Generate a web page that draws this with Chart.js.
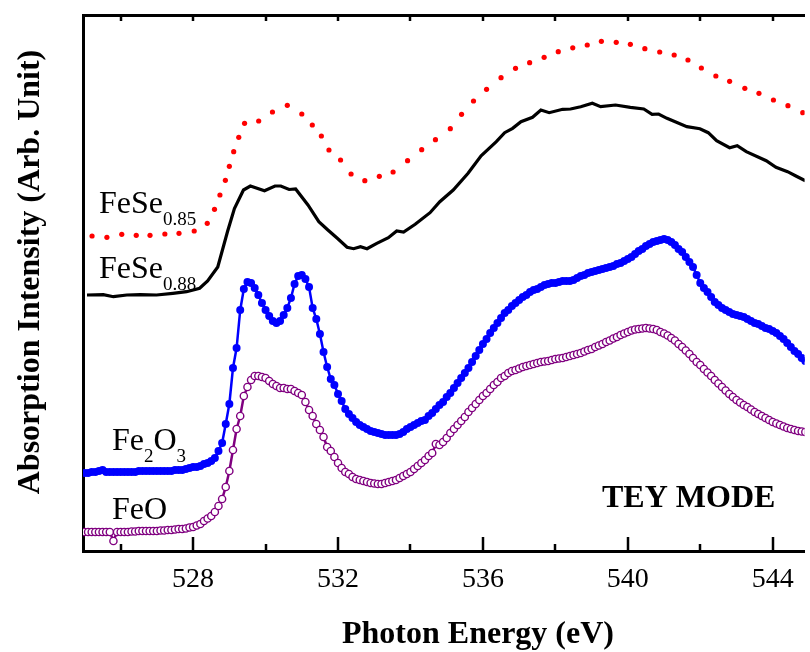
<!DOCTYPE html>
<html>
<head>
<meta charset="utf-8">
<script src="https://cdn.jsdelivr.net/npm/chart.js@4.4.1/dist/chart.umd.min.js"></script>
<style>
  html, body { margin: 0; padding: 0; background: #fff; }
  canvas { display: block; }
</style>
</head>
<body>
<canvas id="chart" width="810" height="652"></canvas>
<script>
// Photon energy grid (eV) of the Fe2O3 and FeO scans
const energyFine = [
  525.0, 525.1, 525.2, 525.3, 525.4, 525.5, 525.6, 525.7, 525.8, 525.9,
  526.0, 526.1, 526.2, 526.3, 526.4, 526.5, 526.6, 526.7, 526.8, 526.9,
  527.0, 527.1, 527.2, 527.3, 527.4, 527.5, 527.6, 527.7, 527.8, 527.9,
  528.0, 528.1, 528.2, 528.3, 528.4, 528.5, 528.6, 528.7, 528.8, 528.9,
  529.0, 529.1, 529.2, 529.3, 529.4, 529.5, 529.6, 529.7, 529.8, 529.9,
  530.0, 530.1, 530.2, 530.3, 530.4, 530.5, 530.6, 530.7, 530.8, 530.9,
  531.0, 531.1, 531.2, 531.3, 531.4, 531.5, 531.6, 531.7, 531.8, 531.9,
  532.0, 532.1, 532.2, 532.3, 532.4, 532.5, 532.6, 532.7, 532.8, 532.9,
  533.0, 533.1, 533.2, 533.3, 533.4, 533.5, 533.6, 533.7, 533.8, 533.9,
  534.0, 534.1, 534.2, 534.3, 534.4, 534.5, 534.6, 534.7, 534.8, 534.9,
  535.0, 535.1, 535.2, 535.3, 535.4, 535.5, 535.6, 535.7, 535.8, 535.9,
  536.0, 536.1, 536.2, 536.3, 536.4, 536.5, 536.6, 536.7, 536.8, 536.9,
  537.0, 537.1, 537.2, 537.3, 537.4, 537.5, 537.6, 537.7, 537.8, 537.9,
  538.0, 538.1, 538.2, 538.3, 538.4, 538.5, 538.6, 538.7, 538.8, 538.9,
  539.0, 539.1, 539.2, 539.3, 539.4, 539.5, 539.6, 539.7, 539.8, 539.9,
  540.0, 540.1, 540.2, 540.3, 540.4, 540.5, 540.6, 540.7, 540.8, 540.9,
  541.0, 541.1, 541.2, 541.3, 541.4, 541.5, 541.6, 541.7, 541.8, 541.9,
  542.0, 542.1, 542.2, 542.3, 542.4, 542.5, 542.6, 542.7, 542.8, 542.9,
  543.0, 543.1, 543.2, 543.3, 543.4, 543.5, 543.6, 543.7, 543.8, 543.9,
  544.0, 544.1, 544.2, 544.3, 544.4, 544.5, 544.6, 544.7, 544.8, 544.9
];

// Fe2O3 (blue, filled circles) - arb. units, offset as plotted
const fe2o3 = [
  78, 78, 79, 79, 80, 81, 79, 79, 79, 79,
  79, 79, 79, 79, 79, 80, 80, 80, 80, 80,
  80, 80, 80, 80, 80, 81, 81, 81, 82, 83,
  84, 84, 85, 87, 88, 90, 93, 100, 108, 127,
  147, 183, 203, 241, 262, 269, 268, 263, 256, 248,
  241, 235, 230, 228, 230, 236, 243, 253, 267, 275,
  276, 272, 264, 243, 232, 217, 199, 184, 172, 166,
  157, 150, 142, 137, 133, 129, 126, 124, 122, 120,
  119, 118, 117, 116, 116, 116, 116, 117, 119, 122,
  124, 126, 128, 130, 131, 135, 138, 142, 146, 149,
  154, 158, 163, 168, 173, 178, 183, 189, 195, 201,
  207, 212, 218, 223, 228, 233, 238, 241, 245, 248,
  251, 254, 256, 259, 261, 262, 264, 266, 267, 268,
  268, 269, 270, 270, 270, 271, 273, 275, 276, 278,
  279, 280, 281, 282, 283, 284, 285, 287, 288, 290,
  292, 294, 297, 300, 302, 305, 307, 309, 310, 311,
  312, 311, 309, 306, 302, 299, 294, 289, 284, 276,
  268, 263, 259, 254, 249, 246, 243, 241, 239, 237,
  236, 235, 234, 232, 230, 228, 227, 225, 223, 222,
  220, 218, 215, 212, 208, 204, 200, 197, 193, 190
];

// FeO (purple, open circles)
const feo = [
  19, 19, 19, 19, 19, 19, 19, 19, 10, 19,
  19, 19, 19, 19.5, 19.5, 20, 20, 20, 20, 20,
  20, 20.5, 20.5, 21, 21, 21.5, 22, 22, 22.5, 23.5,
  24, 25.5, 27, 30, 32.5, 35, 39, 45, 52, 64,
  80, 101, 122, 135, 155, 164, 171, 175, 175, 174,
  173, 170, 167, 165, 163, 163, 162, 162, 160, 158,
  156, 149, 141, 135, 127, 121, 114, 104, 100, 94,
  88, 83, 79, 77, 74, 72, 71, 70, 69, 68,
  67.5, 67, 67, 68, 69, 70, 71, 73, 75, 77,
  79, 82, 85, 88, 91, 95, 98, 107, 106, 109,
  113, 118, 122, 126, 130, 134, 139, 143, 147, 151,
  155, 158, 162, 166, 169, 173, 175, 178, 180, 181,
  182.5, 184, 185, 186, 187, 188, 189, 189.5, 190, 191,
  192, 192.5, 193, 194, 195, 196, 197, 198, 199.5, 201,
  202, 204, 205.5, 207, 209, 210.5, 212.5, 214, 216, 217.5,
  219, 220.5, 221.5, 222, 222.5, 223, 222.5, 222, 221, 219,
  217.5, 215.5, 213, 210.5, 207, 204, 200.5, 197, 193, 189,
  186, 182, 178.5, 175, 171, 167.5, 164, 160.5, 157, 154,
  151, 148.5, 146, 144, 141.5, 139, 137, 135, 133, 131,
  129, 127.5, 126, 124.5, 123, 122, 121, 120, 119.5, 119
];

// FeSe0.88 (black solid line)
const fese88Energy = [
  525.07, 525.52, 525.80, 526.17, 526.54, 526.99, 527.44, 527.82, 528.18, 528.40,
  528.68, 528.95, 529.14, 529.39, 529.58, 529.97, 530.26, 530.42, 530.65, 530.83,
  531.17, 531.47, 531.72, 531.98, 532.25, 532.43, 532.62, 532.80, 533.07, 533.39,
  533.62, 533.81, 534.13, 534.54, 534.81, 535.18, 535.59, 535.95, 536.37, 536.60,
  536.82, 537.05, 537.37, 537.60, 537.83, 538.20, 538.42, 538.70, 539.02, 539.25,
  539.66, 540.07, 540.44, 540.67, 540.85, 541.08, 541.63, 541.99, 542.22, 542.45,
  542.81, 543.02, 543.27, 543.82, 544.09, 544.41, 544.64, 544.90
];
const fese88 = [
  256, 256.3, 254.3, 256, 256.3, 256, 257.7, 259.3, 262.7, 270,
  284, 319.5, 342.5, 361, 365, 360.3, 365, 365, 361.5, 362,
  346, 329.3, 321, 312.7, 303.7, 302.3, 304.3, 302.3, 307.7, 313.3,
  320, 319, 326.7, 338.3, 349.3, 361, 377.7, 395.3, 409.3, 418.3,
  422.7, 429.3, 433.7, 441, 438.3, 441.7, 442, 444.3, 447.7, 444.3,
  446, 443.7, 442, 436.7, 437, 432.7, 424.3, 422.3, 418.3, 410.3,
  403.3, 405.3, 399.3, 390.3, 383.7, 379.3, 375, 370.3
];

// FeSe0.85 (red dotted)
const fese85Energy = [
  525.21, 525.62, 526.03, 526.43, 526.81, 527.22, 527.61, 528.03, 528.39, 528.59,
  528.74, 528.89, 529.00, 529.12, 529.26, 529.42, 529.81, 530.19, 530.60, 531.00,
  531.29, 531.54, 531.75, 532.07, 532.36, 532.74, 533.14, 533.52, 533.92, 534.31,
  534.69, 535.10, 535.41, 535.74, 536.10, 536.50, 536.90, 537.29, 537.69, 538.08,
  538.48, 538.88, 539.27, 539.68, 540.07, 540.47, 540.88, 541.28, 541.66, 542.03,
  542.43, 542.81, 543.23, 543.62, 544.02, 544.42, 544.83
];
const fese85 = [
  315, 313.7, 316.7, 315.7, 315.7, 317, 317.7, 320, 327.7, 341.7,
  356, 370.7, 384.7, 399.3, 413.7, 427.7, 430, 439, 445.7, 437,
  426, 415, 401, 391, 377, 370.3, 374.7, 379, 390.3, 401.3,
  411.3, 422.3, 436.7, 450, 461.7, 473.3, 482.7, 488.3, 493.7, 499.3,
  503.2, 506, 509.7, 508.7, 506.7, 502.3, 499, 496, 491, 483,
  475, 469.7, 462.7, 457.7, 451, 445.3, 438.3
];

// axis ticks
const labelTicks = [528, 532, 536, 540, 544];
const minorTicks = [526, 530, 534, 538, 542];
const topTicks = [526, 528, 530, 532, 534, 536, 538, 540, 542, 544];
const xMin = 524.96;
const xMax = 544.88;

const serif = '"Liberation Serif", "Times New Roman", Times, serif';

function pairs(xs, ys) {
    return xs.map((x, i) => ({ x: x, y: ys[i] }));
}

// inward tick marks on bottom and top frame
const frameTicks = {
    id: 'frameTicks',
    afterDraw(chart) {
        const { ctx, chartArea, scales } = chart;
        const x = scales.x;
        ctx.save();
        ctx.strokeStyle = '#000';
        ctx.lineWidth = 2.5;
        const mark = (v, y0, y1) => {
            const px = Math.round(x.getPixelForValue(v));
            ctx.beginPath();
            ctx.moveTo(px, y0);
            ctx.lineTo(px, y1);
            ctx.stroke();
        };
        labelTicks.forEach(v => mark(v, chartArea.bottom, chartArea.bottom - 14));
        minorTicks.forEach(v => mark(v, chartArea.bottom, chartArea.bottom - 7));
        topTicks.forEach(v => mark(v, chartArea.top, chartArea.top + 6));
        ctx.restore();
    }
};

// curve names, mode note and axis titles
const textLabels = {
    id: 'textLabels',
    afterDraw(chart) {
        const ctx = chart.ctx;
        ctx.save();
        ctx.fillStyle = '#000';
        ctx.textBaseline = 'alphabetic';
        ctx.textAlign = 'left';

        const formula = (parts, x, y) => {
            let cx = x;
            parts.forEach(([txt, sub]) => {
                ctx.font = sub ? '19px ' + serif : '32px ' + serif;
                ctx.fillText(txt, cx, sub ? y + 12 : y);
                cx += ctx.measureText(txt).width;
            });
        };
        formula([['FeSe', false], ['0.85', true]], 99, 213);
        formula([['FeSe', false], ['0.88', true]], 99, 278);
        formula([['Fe', false], ['2', true], ['O', false], ['3', true]], 112, 450);
        formula([['FeO', false]], 112, 519);

        ctx.font = 'bold 32px ' + serif;
        ctx.fillText('TEY MODE', 602, 507);

        ctx.font = 'bold 32px ' + serif;
        ctx.textAlign = 'center';
        ctx.fillText('Photon Energy (eV)', 478, 643);

        ctx.translate(31, 272);
        ctx.rotate(-Math.PI / 2);
        ctx.textBaseline = 'middle';
        ctx.font = 'bold 32px ' + serif;
        ctx.fillText('Absorption Intensity (Arb. Unit)', 0, 0);
        ctx.restore();
    }
};

// keep the plot area flush with the right edge, like the clipped original
const noEdgePadding = s => {
    s.paddingLeft = 0;
    s.paddingRight = 0;
};

new Chart(document.getElementById('chart'), {
    type: 'scatter',
    data: {
        datasets: [
            {
                label: 'FeSe0.85',
                data: pairs(fese85Energy, fese85),
                showLine: false,
                pointRadius: 2.6,
                pointBorderWidth: 0,
                pointBackgroundColor: '#ff0000'
            },
            {
                label: 'FeSe0.88',
                data: pairs(fese88Energy, fese88),
                showLine: true,
                borderColor: '#000',
                borderWidth: 3.2,
                pointRadius: 0,
                tension: 0
            },
            {
                label: 'Fe2O3',
                data: pairs(energyFine, fe2o3),
                showLine: true,
                borderColor: '#0000ff',
                borderWidth: 2.5,
                pointRadius: 4,
                pointBorderWidth: 0,
                pointBackgroundColor: '#0000ff'
            },
            {
                label: 'FeO',
                data: pairs(energyFine, feo),
                showLine: true,
                borderColor: '#800080',
                borderWidth: 2.5,
                pointRadius: 3.6,
                pointBorderWidth: 1.4,
                pointBorderColor: '#800080',
                pointBackgroundColor: '#ffffff'
            }
        ]
    },
    options: {
        responsive: false,
        animation: false,
        devicePixelRatio: 1,
        layout: { padding: 0 },
        plugins: {
            legend: { display: false },
            tooltip: { enabled: false }
        },
        scales: {
            x: {
                type: 'linear',
                position: 'bottom',
                min: xMin,
                max: xMax,
                border: { color: '#000', width: 3 },
                grid: { display: false, drawTicks: false },
                ticks: {
                    color: '#000',
                    font: { family: serif, size: 28 },
                    padding: 12,
                    maxRotation: 0,
                    callback: v => v
                },
                afterBuildTicks: s => { s.ticks = labelTicks.map(v => ({ value: v })); },
                afterFit: s => { s.height = 101; noEdgePadding(s); }
            },
            xTop: {
                type: 'linear',
                position: 'top',
                min: xMin,
                max: xMax,
                border: { color: '#000', width: 3 },
                grid: { display: false, drawTicks: false },
                ticks: { display: false },
                afterFit: s => { s.height = 15; noEdgePadding(s); }
            },
            y: {
                min: 0,
                max: 536,
                border: { color: '#000', width: 3 },
                grid: { display: false, drawTicks: false },
                ticks: { display: false },
                afterFit: s => { s.width = 83; }
            }
        }
    },
    plugins: [frameTicks, textLabels]
});
</script>
</body>
</html>
